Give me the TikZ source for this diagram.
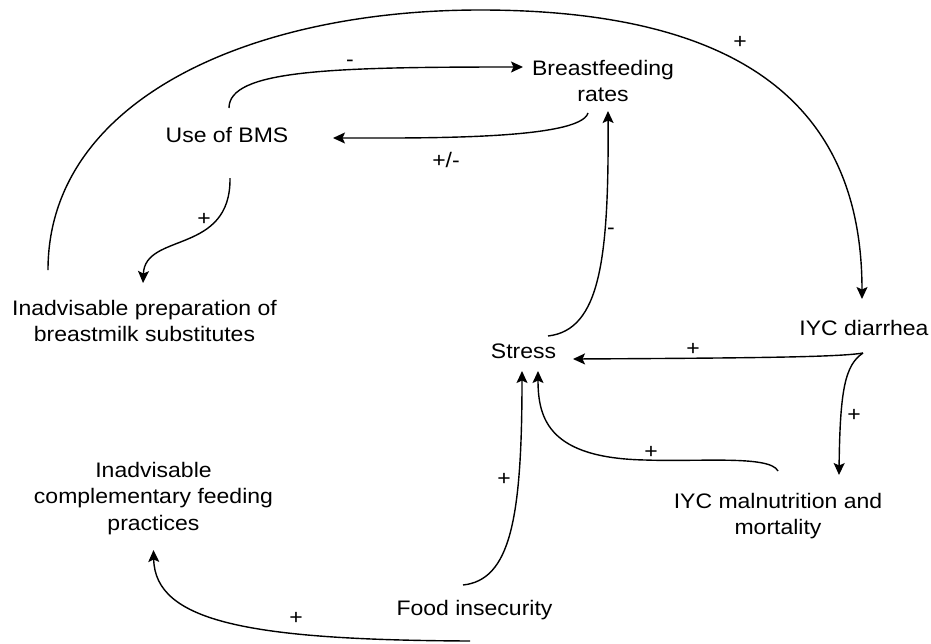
\documentclass[tikz,border=0pt]{standalone}
\usepackage{fontspec}
\setmainfont{Liberation Sans}[FakeStretch=1.095]
\usetikzlibrary{arrows.meta,calc}
\tikzset{
  lbl/.style={inner sep=0pt, anchor=north, align=center, font=\fontsize{21}{26.5}\selectfont},
  sgn/.style={inner sep=0pt, anchor=center, font=\fontsize{21}{26.5}\selectfont},
  link/.style={line width=1.4pt, -{Stealth[length=12pt,width=11pt,inset=2.5pt]}},
}
\begin{document}
\begin{tikzpicture}[x=1pt,y=-1pt]
\useasboundingbox (0,0) rectangle (931,643);
% nodes
\node[lbl] (bf)     at (603,60)   {Breastfeeding\\rates};
\node[lbl] (use)    at (227,127)  {Use of BMS};
\node[lbl] (prep)   at (144.5,300){Inadvisable preparation of\\breastmilk substitutes};
\node[lbl] (iyc)    at (864,320)  {IYC diarrhea};
\node[lbl] (stress) at (523.5,344){Stress};
\node[lbl] (comp)   at (153.5,462){Inadvisable\\complementary feeding\\practices};
\node[lbl] (mal)    at (778,493)  {IYC malnutrition and\\mortality};
\node[lbl] (food)   at (474.5,600){Food insecurity};
% connectors
\draw[link] ($(prep.north)+(-96.5,-30)$) .. controls (48,100) and (250,10) .. (480,10)
   .. controls (760,10) and (862,120) .. ($(iyc.north)+(-2,-21)$);
\draw[link] ($(use.north)+(2,-19)$) .. controls (229,70) and (330,67) .. ($(bf.north)+(-80,7)$);
\draw[link] ($(bf.north)+(-15,53)$) .. controls (580,140) and (420,138) .. ($(use.north)+(106,11)$);
\draw[link] ($(use.north)+(3,51)$) .. controls (231,255) and (145,232) .. ($(prep.north)+(-1.5,-17)$);
\draw[link] ($(stress.north)+(24.5,-8)$) .. controls (600,330) and (609,260) .. ($(bf.north)+(5,51)$);
\draw[link] ($(iyc.north)+(-1,33)$) .. controls (840,357) and (760,358) .. ($(stress.north)+(49.5,15)$);
\draw[link] ($(iyc.north)+(-1,33)$) .. controls (845,365) and (840,390) .. ($(mal.north)+(61,-18)$);
\draw[link] ($(mal.north)+(0,-22)$) .. controls (770,455) and (700,462) .. (645,460)
   .. controls (550,458) and (538,420) .. ($(stress.north)+(14.5,27)$);
\draw[link] ($(food.north)+(-11.5,-15)$) .. controls (510,580) and (522,520) .. ($(stress.north)+(-1.5,27)$);
\draw[link] ($(food.north)+(-4.5,41)$) .. controls (250,640) and (155,622) .. ($(comp.north)+(0,88)$);
% polarity labels
\node[sgn] (p1)  at (740,42)  {+};
\node[sgn] (p2)  at (350,63)  {-};
\node[sgn] (p3)  at (446,160) {+/-};
\node[sgn] (p4)  at (204,219) {+};
\node[sgn] (p5)  at (611,231) {-};
\node[sgn] (p6)  at (693,349) {+};
\node[sgn] (p7)  at (854,415) {+};
\node[sgn] (p8)  at (651,452) {+};
\node[sgn] (p9)  at (504,479) {+};
\node[sgn] (p10) at (296,618) {+};
\end{tikzpicture}
\end{document}
